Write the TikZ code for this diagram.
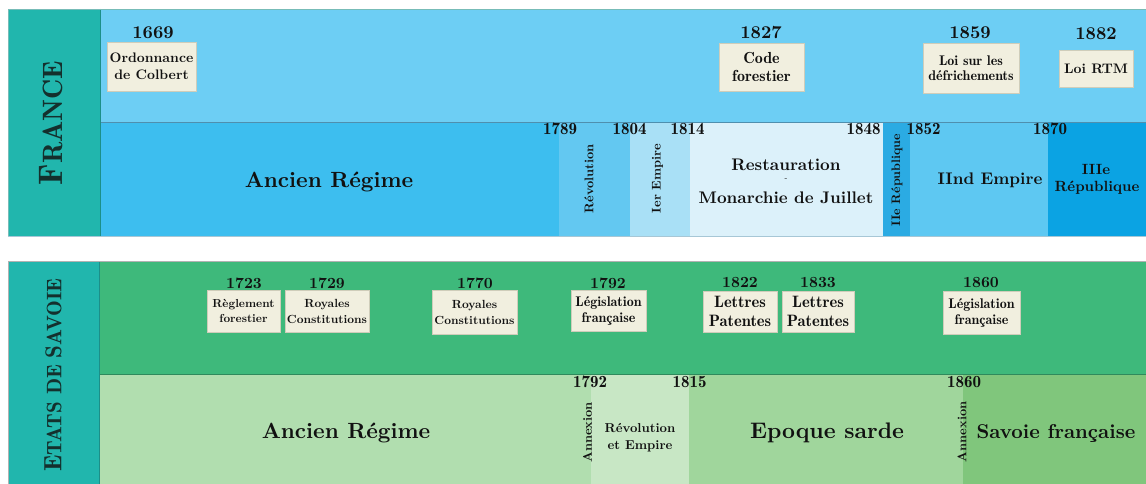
\documentclass[tikz,border=0pt]{standalone}
\usepackage{fontspec}
\newfontfamily\demi{lmromandemi10-regular.otf}
\newfontfamily\heavyfont{lmroman10-bold.otf}
\definecolor{side}{HTML}{21B6AD}
\definecolor{sideline}{HTML}{1C8F88}
\definecolor{frtop}{HTML}{6DCEF4}
\definecolor{frline}{HTML}{4F8FAE}
\definecolor{frA}{HTML}{3DBEEF}
\definecolor{frRev}{HTML}{63C8F1}
\definecolor{frEmp}{HTML}{A9E0F6}
\definecolor{frRest}{HTML}{DCF1FA}
\definecolor{frIIR}{HTML}{2BABE3}
\definecolor{frIIE}{HTML}{5EC8F2}
\definecolor{frIIIR}{HTML}{0BA3E3}
\definecolor{svtop}{HTML}{3EB97B}
\definecolor{svline}{HTML}{2F8A5C}
\definecolor{svA}{HTML}{B1DEAF}
\definecolor{svRev}{HTML}{C8E7C5}
\definecolor{svSarde}{HTML}{A0D69C}
\definecolor{svFr}{HTML}{80C67C}
\definecolor{boxfill}{HTML}{F1EFDF}
\definecolor{boxline}{HTML}{CFCDBA}
\definecolor{txt}{HTML}{111111}
\definecolor{sidetxt}{HTML}{14302D}
\newcommand{\fzs}[2]{\fontsize{#1}{#2}\selectfont}
\newcommand{\fsz}[1]{\fontsize{#1}{#1}\selectfont}
\tikzset{
  yr/.style={inner sep=0pt, text=txt, font=\heavyfont\fsz{18}},
  yrsv/.style={inner sep=0pt, text=txt, font=\heavyfont\fsz{15.5}},
  yrlow/.style={inner sep=0pt, text=txt, font=\demi\fsz{17}},
  evt/.style={fill=boxfill, draw=boxline, line width=0.6pt, align=center, inner sep=1pt, text=txt},
  per/.style={inner sep=0pt, text=txt, font=\heavyfont\fsz{16.8}, align=center},
  vert/.style={inner sep=0pt, text=txt, rotate=90, font=\heavyfont\fsz{12.6}},
  sidelbl/.style={inner sep=0pt, text=sidetxt, rotate=90}
}
\begin{document}
\begin{tikzpicture}[x=1pt,y=-1pt]
\useasboundingbox (0,0) rectangle (1146,484);
\fill[white] (0,0) rectangle (1146,484);
% ---------- FRANCE panel ----------
\fill[side] (8,9) rectangle (100,236);
\fill[frtop] (100,9) rectangle (1146,122);
\fill[frA] (100,122) rectangle (559,236);
\fill[frRev] (559,122) rectangle (630,236);
\fill[frEmp] (630,122) rectangle (690,236);
\fill[frRest] (690,122) rectangle (883,236);
\fill[frIIR] (883,122) rectangle (910,236);
\fill[frIIE] (910,122) rectangle (1048,236);
\fill[frIIIR] (1048,122) rectangle (1146,236);
\draw[frline, line width=0.9pt] (100,122) -- (1146,122);
\draw[sideline, line width=0.6pt] (100,9) -- (100,236);
\draw[sideline!60, line width=0.5pt] (8,236) -- (8,9) -- (1146,9);
\draw[frline!50, line width=0.5pt] (8,236) -- (1146,236);

\node[sidelbl, font=\demi] (fr) at (51,123) {{\fsz{34}F}{\fsz{28}RANCE}};

\node[yr] (y1669) at (153,33) {1669};
\node[evt, minimum width=89pt, minimum height=49pt, font=\heavyfont\fzs{13.8}{17}] (colbert) at (151.5,66.5) {Ordonnance\\de Colbert};
\node[yr] (y1827) at (761,33) {1827};
\node[evt, minimum width=85pt, minimum height=48pt, font=\demi\fzs{16}{18}] (code) at (761.5,67) {Code\\forestier};
\node[yr] (y1859) at (970,33) {1859};
\node[evt, minimum width=96pt, minimum height=50pt, font=\demi\fzs{14}{15.5}] (defr) at (971,68) {Loi sur les\\défrichements};
\node[yr] (y1882) at (1096,34) {1882};
\node[evt, minimum width=74pt, minimum height=37pt, font=\heavyfont\fsz{13.8}] (rtm) at (1096,68.5) {Loi RTM};

\node[yrlow] (y1789) at (560,129) {1789};
\node[yrlow] (y1804) at (629.5,129) {1804};
\node[yrlow] (y1814) at (687.5,129) {1814};
\node[yrlow] (y1848) at (863.5,129) {1848};
\node[yrlow] (y1852) at (923.5,129) {1852};
\node[yrlow] (y1870) at (1050,129) {1870};

\node[per, font=\heavyfont\fsz{22}, anchor=base] (arfr) at (329,187) {Ancien Régime};
\node[vert] (rev) at (589,179) {Révolution};
\node[vert] (emp1) at (657.5,178.5) {Ier Empire};
\node[per, anchor=base] (rest) at (786,171) {Restauration};
\node[inner sep=0pt, text=txt, font=\fsz{8}] (dash) at (786,180) {-};
\node[per, anchor=base] (mdj) at (786,203) {Monarchie de Juillet};
\node[vert, font=\heavyfont\fsz{12.3}] (rep2) at (897,180) {IIe République};
\node[per, anchor=base] (emp2) at (990,184) {IInd Empire};
\node[per, font=\heavyfont\fsz{14.8}, anchor=base] (rep3a) at (1096,175) {IIIe};
\node[per, font=\heavyfont\fsz{14.8}, anchor=base] (rep3b) at (1097,191) {République};

% ---------- SAVOIE panel ----------
\fill[side] (8,261) rectangle (99,484);
\fill[svtop] (99,261) rectangle (1146,374);
\fill[svA] (99,374) rectangle (591,484);
\fill[svRev] (591,374) rectangle (689,484);
\fill[svSarde] (689,374) rectangle (963,484);
\fill[svFr] (963,374) rectangle (1146,484);
\draw[svline, line width=0.9pt] (99,374) -- (1146,374);
\draw[sideline, line width=0.6pt] (99,261) -- (99,484);
\draw[black!30, line width=0.5pt] (8,484) -- (8,261) -- (1146,261);

\node[sidelbl, font=\demi] (sv) at (53,375) {{\fsz{25}E}{\fsz{21}TATS DE }{\fsz{23}S}{\fsz{21}AVOIE}};

\node[yrsv] (y1723) at (244,283) {1723};
\node[evt, minimum width=73pt, minimum height=42pt, font=\heavyfont\fzs{11.6}{14.5}] (regl) at (243.5,311) {Règlement\\forestier};
\node[yrsv] (y1729) at (327,283) {1729};
\node[evt, minimum width=84pt, minimum height=42pt, font=\heavyfont\fzs{11.8}{16}] (roy1) at (327,311) {Royales\\Constitutions};
\node[yrsv] (y1770) at (475,283) {1770};
\node[evt, minimum width=85pt, minimum height=44pt, font=\heavyfont\fzs{11.8}{16}] (roy2) at (474.5,312) {Royales\\Constitutions};
\node[yrsv] (y1792a) at (608,283) {1792};
\node[evt, minimum width=75pt, minimum height=41pt, font=\demi\fzs{14}{16}] (leg1) at (608.5,310.5) {Législation\\française};
\node[yrsv] (y1822) at (740,283) {1822};
\node[evt, minimum width=74pt, minimum height=41pt, font=\demi\fzs{16.5}{19}] (lp1) at (740,311.5) {Lettres\\Patentes};
\node[yrsv] (y1833) at (818,283) {1833};
\node[evt, minimum width=72pt, minimum height=41pt, font=\demi\fzs{16.5}{19}] (lp2) at (818,311.5) {Lettres\\Patentes};
\node[yrsv] (y1860a) at (981,283) {1860};
\node[evt, minimum width=77pt, minimum height=43pt, font=\demi\fzs{14}{16}] (leg2) at (981.5,312.5) {Législation\\française};

\node[yrlow] (y1792b) at (590,382) {1792};
\node[yrlow] (y1815) at (689.5,382) {1815};
\node[yrlow] (y1860b) at (964,382) {1860};

\node[per, font=\heavyfont\fsz{22}, anchor=base] (arsv) at (346,438) {Ancien Régime};
\node[vert] (ann1) at (587.5,432.5) {Annexion};
\node[per, font=\heavyfont\fsz{12.9}, anchor=base] (reva) at (640,432) {Révolution};
\node[per, font=\heavyfont\fsz{12.9}, anchor=base] (revb) at (640,449) {et Empire};
\node[per, font=\heavyfont\fsz{22.5}, anchor=base] (sarde) at (827,438) {Epoque sarde};
\node[vert] (ann2) at (962,432) {Annexion};
\node[per, font=\heavyfont\fsz{20}, anchor=base] (savfr) at (1056,438) {Savoie française};
\end{tikzpicture}
\end{document}
